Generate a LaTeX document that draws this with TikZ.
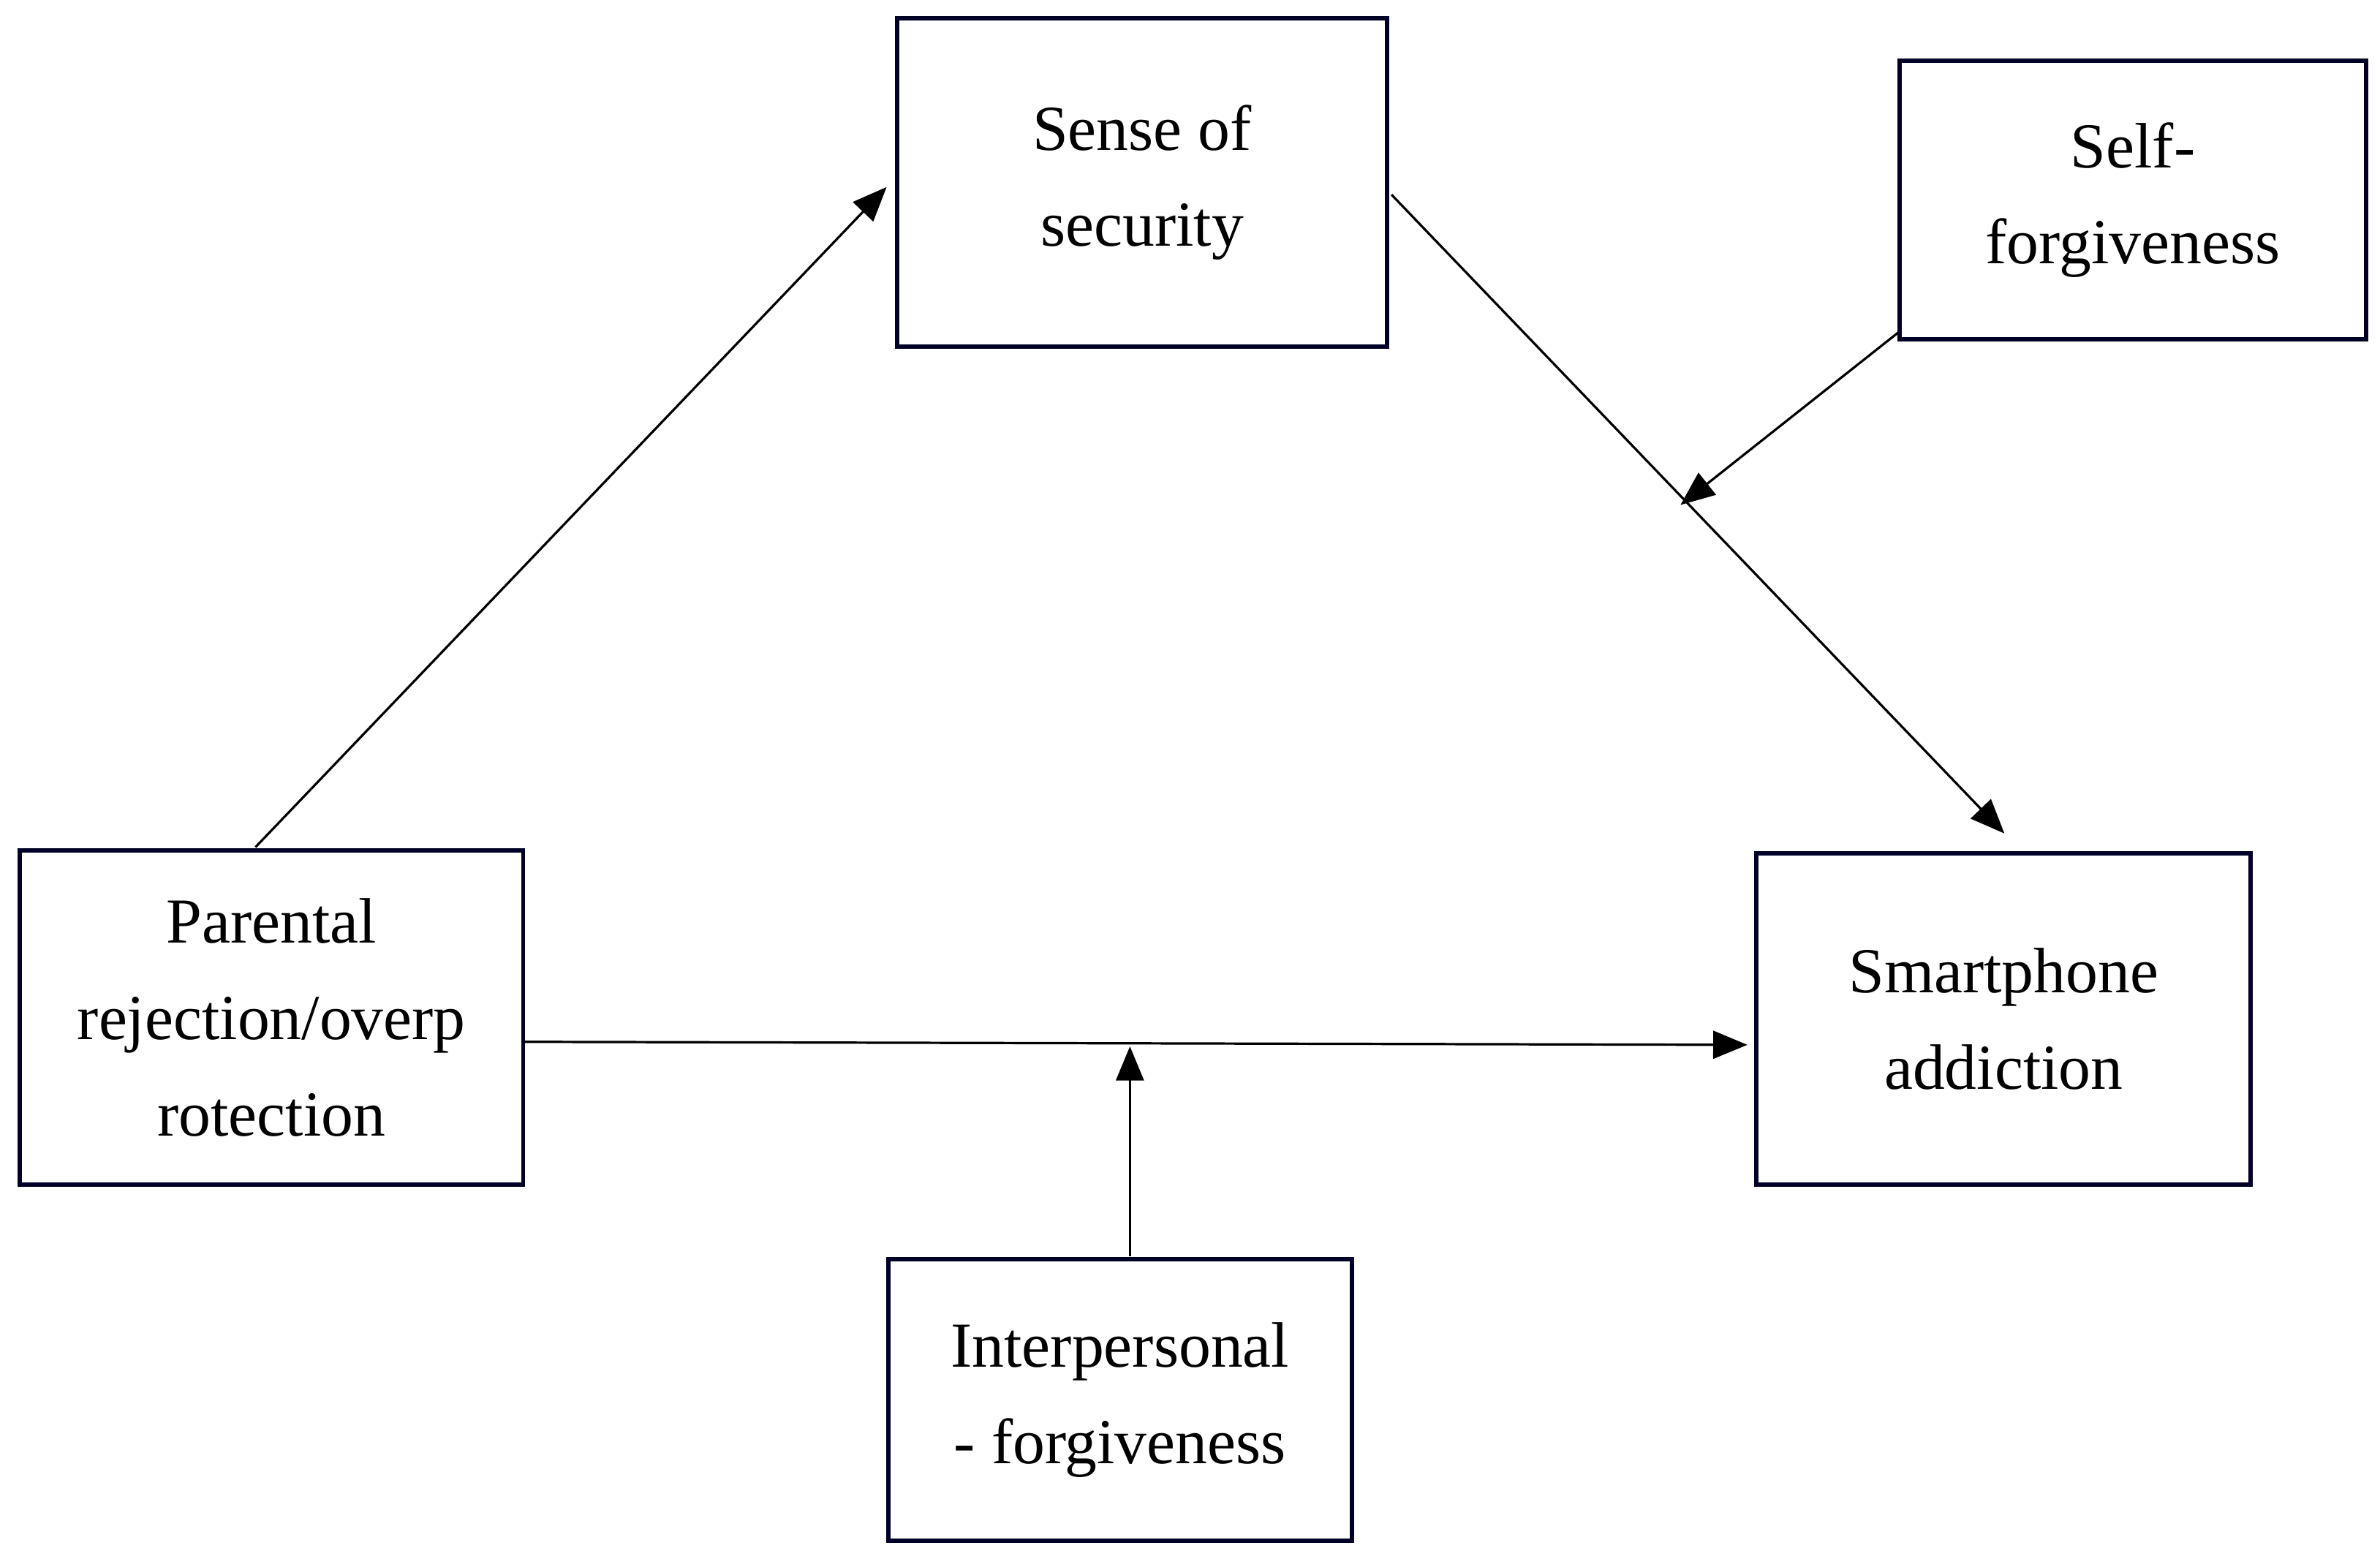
\documentclass[tikz,border=0pt]{standalone}
\usepackage{fontspec}
\setmainfont{Liberation Serif}
\usetikzlibrary{arrows.meta}
\begin{document}
\begin{tikzpicture}[x=0.05cm,y=-0.05cm,
 box/.style={draw=black!85!blue,line width=4pt,align=center,inner sep=0pt,font=\fontsize{60}{90}\selectfont},
 arr/.style={line width=2.2pt,-{Triangle[length=32pt,width=26pt]}}]
\useasboundingbox (0,0) rectangle (1565,1025);
\node[box,minimum width=322*0.05cm,minimum height=216*0.05cm] (sec) at (751,120) {Sense of\\security};
\node[box,minimum width=307*0.05cm,minimum height=183*0.05cm] (self) at (1402.5,131.5) {Self-\\forgiveness};
\node[box,minimum width=331*0.05cm,minimum height=220*0.05cm] (par) at (178.5,669) {Parental\\rejection/overp\\rotection};
\node[box,minimum width=325*0.05cm,minimum height=218*0.05cm] (sma) at (1317.5,670) {Smartphone\\addiction};
\node[box,minimum width=305*0.05cm,minimum height=185*0.05cm] (int) at (736.5,920.5) {Interpersonal\\- forgiveness};
\coordinate (p1) at (168,557); \coordinate (p2) at (583,123);
\coordinate (s1) at (915,128); \coordinate (s2) at (1318,548);
\coordinate (f1) at (1249,218); \coordinate (f2) at (1105,332);
\coordinate (h1) at (344,685); \coordinate (h2) at (1149,687);
\coordinate (i1) at (743,826); \coordinate (i2) at (743,688);
\draw[arr] (p1) -- (p2);
\draw[arr] (s1) -- (s2);
\draw[arr] (f1) -- (f2);
\draw[arr] (h1) -- (h2);
\draw[arr] (i1) -- (i2);
\end{tikzpicture}
\end{document}
